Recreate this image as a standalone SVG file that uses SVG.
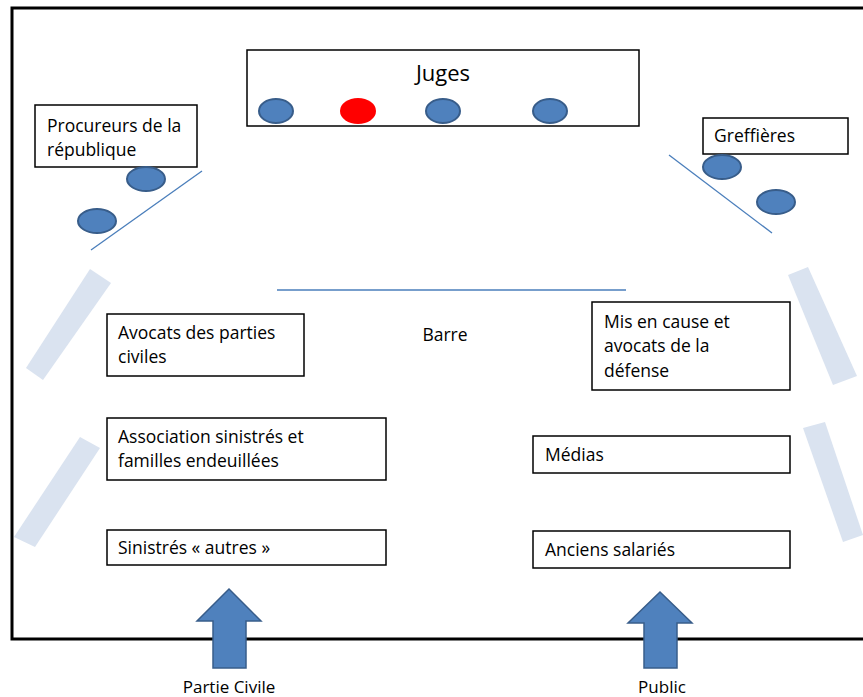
<svg xmlns="http://www.w3.org/2000/svg" width="863" height="697" viewBox="0 0 863 697">
<style>
.box{fill:#fff;stroke:#000;stroke-width:1.5}
.t{font-family:"Open Sans","Liberation Sans",sans-serif;font-size:17.5px;fill:#000}
.big{font-size:22px}
.lbl{font-size:17px}
.seat{fill:#4f81bd;stroke:#385d8a;stroke-width:2}
.ln{stroke:#4a7ebb;stroke-width:1.3;fill:none}
.bar{fill:#dae3f0}
.arr{fill:#4f81bd;stroke:#385d8a;stroke-width:1.5}
</style>
<rect width="863" height="697" fill="#fff"/>
<path d="M866 8 H12 V639 H866" fill="none" stroke="#000" stroke-width="3"/>
<g id="walls">
<polygon class="bar" points="90,269 111,283 43,380 26,368"/>
<polygon class="bar" points="80,437 100,448 35,547 14,537"/>
<polygon class="bar" points="788,275 808,267 857,376 833,385"/>
<polygon class="bar" points="803,428 825,422 863,535 843,542"/>
</g>
<g id="connectors">
<line class="ln" x1="202" y1="171" x2="91" y2="250"/>
<line class="ln" x1="669" y1="155" x2="772" y2="233"/>
<line class="ln" x1="277" y1="290" x2="626" y2="290"/>
</g>
<g id="juges">
<rect class="box" x="247" y="50" width="392" height="76"/>
<text class="t big" x="443" y="81" text-anchor="middle">Juges</text>
<ellipse class="seat" cx="276" cy="111" rx="17" ry="12"/>
<ellipse cx="358" cy="111" rx="18" ry="13" fill="#ff0000"/>
<ellipse class="seat" cx="443" cy="111" rx="17" ry="12"/>
<ellipse class="seat" cx="550" cy="111" rx="17" ry="12"/>
</g>
<g id="procureurs">
<rect class="box" x="35" y="105" width="162" height="62"/>
<text class="t" x="47" y="132">Procureurs de la</text>
<text class="t" x="47" y="156">république</text>
<ellipse class="seat" cx="146" cy="179" rx="19" ry="12"/>
<ellipse class="seat" cx="97" cy="221" rx="19" ry="12"/>
</g>
<g id="greffieres">
<rect class="box" x="703" y="118" width="145" height="36"/>
<text class="t" x="714" y="142">Greffières</text>
<ellipse class="seat" cx="722" cy="167" rx="19" ry="12"/>
<ellipse class="seat" cx="776" cy="202" rx="19" ry="12"/>
</g>
<g id="barre">
<text class="t" x="445" y="341" text-anchor="middle">Barre</text>
</g>
<g id="avocats-pc">
<rect class="box" x="107" y="314" width="197" height="62"/>
<text class="t" x="118" y="339">Avocats des parties</text>
<text class="t" x="118" y="363">civiles</text>
</g>
<g id="association">
<rect class="box" x="107" y="418" width="279" height="62"/>
<text class="t" x="118" y="443">Association sinistrés et</text>
<text class="t" x="118" y="467">familles endeuillées</text>
</g>
<g id="sinistres">
<rect class="box" x="107" y="530" width="279" height="35"/>
<text class="t" x="118" y="554">Sinistrés « autres »</text>
</g>
<g id="mis-en-cause">
<rect class="box" x="592" y="302" width="198" height="88"/>
<text class="t" x="604" y="328">Mis en cause et</text>
<text class="t" x="604" y="352">avocats de la</text>
<text class="t" x="604" y="377">défense</text>
</g>
<g id="medias">
<rect class="box" x="533" y="436" width="257" height="37"/>
<text class="t" x="545" y="461">Médias</text>
</g>
<g id="anciens">
<rect class="box" x="533" y="531" width="257" height="37"/>
<text class="t" x="545" y="556">Anciens salariés</text>
</g>
<g id="arrow-pc">
<polygon class="arr" points="229,589 261,621 246,621 246,668 213,668 213,621 197,621"/>
<text class="t lbl" x="229" y="693" text-anchor="middle">Partie Civile</text>
</g>
<g id="arrow-public">
<polygon class="arr" points="660,592 692,623 677,623 677,668 644,668 644,623 628,623"/>
<text class="t lbl" x="662" y="693" text-anchor="middle">Public</text>
</g>
</svg>
